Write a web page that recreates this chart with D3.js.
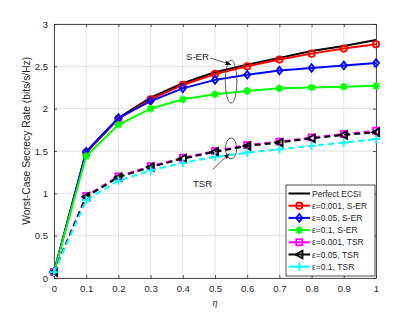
<!DOCTYPE html>
<html lang="en">
<head>
<meta charset="UTF-8">
<title>Worst-Case Secrecy Rate</title>
<script src="https://d3js.org/d3.v7.min.js"></script>
<style>
    body { margin: 0; background: #fff; font-family: Arial, "Liberation Sans", sans-serif; }
    svg text { fill: #262626; }
</style>
</head>
<body>
<svg width="415" height="312"></svg>
<script>
    // data
    const eta = [0, 0.1, 0.2, 0.3, 0.4, 0.5, 0.6, 0.7, 0.8, 0.9, 1];
    const perfect = [0.07, 1.49, 1.89, 2.13, 2.30, 2.43, 2.52, 2.60, 2.68, 2.74, 2.81];
    const serA = [0.07, 1.48, 1.88, 2.11, 2.28, 2.41, 2.50, 2.58, 2.65, 2.71, 2.76];
    const serB = [0.07, 1.49, 1.89, 2.09, 2.24, 2.34, 2.40, 2.45, 2.48, 2.51, 2.54];
    const serC = [0.07, 1.44, 1.81, 2.00, 2.11, 2.17, 2.21, 2.24, 2.25, 2.26, 2.27];
    const tsrA = [0.07, 0.97, 1.20, 1.32, 1.42, 1.50, 1.57, 1.61, 1.66, 1.70, 1.74];
    const tsrB = [0.07, 0.96, 1.19, 1.31, 1.41, 1.49, 1.56, 1.60, 1.65, 1.69, 1.72];
    const tsrC = [0.07, 0.92, 1.15, 1.27, 1.36, 1.43, 1.48, 1.52, 1.56, 1.60, 1.64];
    const xTicks = [0, 0.1, 0.2, 0.3, 0.4, 0.5, 0.6, 0.7, 0.8, 0.9, 1];
    const yTicks = [0, 0.5, 1, 1.5, 2, 2.5, 3];

    const series = [
        { name: "Perfect ECSI", values: perfect, color: "#000000", marker: "none", dash: null },
        { name: "\u03b5=0.001, S-ER", values: serA, color: "#ff0000", marker: "circle", dash: null },
        { name: "\u03b5=0.05, S-ER", values: serB, color: "#0000ff", marker: "diamond", dash: null },
        { name: "\u03b5=0.1, S-ER", values: serC, color: "#00ff00", marker: "asterisk", dash: null },
        { name: "\u03b5=0.001, TSR", values: tsrA, color: "#ff00ff", marker: "square", dash: "6,4" },
        { name: "\u03b5=0.05, TSR", values: tsrB, color: "#000000", marker: "triangle", dash: "6,4" },
        { name: "\u03b5=0.1, TSR", values: tsrC, color: "#00ffff", marker: "plus", dash: "6,4" }
    ];

    const svg = d3.select("svg"),
        margin = { top: 24, right: 39, bottom: 34, left: 54 },
        width = +svg.attr("width"),
        height = +svg.attr("height");

    const x = d3.scaleLinear().domain([0, 1]).range([margin.left, width - margin.right]);
    const y = d3.scaleLinear().domain([0, 3]).range([height - margin.bottom, margin.top]);

    // grid
    const grid = svg.append("g");
    grid.selectAll(".gx").data(xTicks).enter().append("line")
        .attr("x1", d => x(d)).attr("x2", d => x(d))
        .attr("y1", y(0)).attr("y2", y(3))
        .attr("stroke", "#e3e3e3").attr("stroke-width", 1);
    grid.selectAll(".gy").data(yTicks).enter().append("line")
        .attr("x1", x(0)).attr("x2", x(1))
        .attr("y1", d => y(d)).attr("y2", d => y(d))
        .attr("stroke", "#e3e3e3").attr("stroke-width", 1);

    // axes, MATLAB style ticks pointing inwards
    const axColor = "#262626";
    const fmt = d => d3.format("~g")(d);
    const gx = svg.append("g").attr("transform", `translate(0,${y(0)})`)
        .call(d3.axisBottom(x).tickValues(xTicks).tickFormat(fmt).tickSizeInner(-3).tickSizeOuter(0).tickPadding(7));
    const gy = svg.append("g").attr("transform", `translate(${x(0)},0)`)
        .call(d3.axisLeft(y).tickValues(yTicks).tickFormat(fmt).tickSizeInner(-3).tickSizeOuter(0).tickPadding(6));
    const gx2 = svg.append("g").attr("transform", `translate(0,${y(3)})`)
        .call(d3.axisTop(x).tickValues(xTicks).tickFormat("").tickSizeInner(-3).tickSizeOuter(0));
    const gy2 = svg.append("g").attr("transform", `translate(${x(1)},0)`)
        .call(d3.axisRight(y).tickValues(yTicks).tickFormat("").tickSizeInner(-3).tickSizeOuter(0));
    [gx, gy, gx2, gy2].forEach(g => {
        g.selectAll("path").attr("stroke", axColor).attr("stroke-width", 0.8);
        g.selectAll("line").attr("stroke", axColor).attr("stroke-width", 0.8);
        g.selectAll("text").attr("font-size", 9.5).attr("font-family", "Arial, 'Liberation Sans', sans-serif").attr("fill", axColor);
    });

    // markers
    function drawMarker(g, type, color, cx, cy) {
        const s = 3.2;
        if (type === "circle") {
            g.append("circle").attr("cx", cx).attr("cy", cy).attr("r", s)
                .attr("fill", "none").attr("stroke", color).attr("stroke-width", 1.8);
        } else if (type === "diamond") {
            g.append("path").attr("d", `M${cx},${cy - s * 1.2}L${cx + s * 0.95},${cy}L${cx},${cy + s * 1.2}L${cx - s * 0.95},${cy}Z`)
                .attr("fill", "none").attr("stroke", color).attr("stroke-width", 1.8);
        } else if (type === "square") {
            g.append("rect").attr("x", cx - s * 0.95).attr("y", cy - s * 0.95).attr("width", s * 1.9).attr("height", s * 1.9)
                .attr("fill", "none").attr("stroke", color).attr("stroke-width", 1.8);
        } else if (type === "triangle") {
            g.append("path").attr("d", `M${cx - s * 1.2},${cy}L${cx + s},${cy - s * 1.2}L${cx + s},${cy + s * 1.2}Z`)
                .attr("fill", "none").attr("stroke", color).attr("stroke-width", 1.8);
        } else if (type === "plus") {
            g.append("path").attr("d", `M${cx - s * 1.3},${cy}H${cx + s * 1.3}M${cx},${cy - s * 1.3}V${cy + s * 1.3}`)
                .attr("stroke", color).attr("stroke-width", 1.8);
        } else if (type === "asterisk") {
            const r = s * 1.2, k = r * 0.707;
            g.append("path").attr("d", `M${cx - r},${cy}H${cx + r}M${cx},${cy - r}V${cy + r}M${cx - k},${cy - k}L${cx + k},${cy + k}M${cx - k},${cy + k}L${cx + k},${cy - k}`)
                .attr("stroke", color).attr("stroke-width", 1.8);
        }
    }

    const line = d3.line().x((d, i) => x(eta[i])).y(d => y(d));
    const plot = svg.append("g");
    series.forEach(s => {
        plot.append("path").datum(s.values)
            .attr("d", line)
            .attr("fill", "none")
            .attr("stroke", s.color)
            .attr("stroke-width", 2)
            .attr("stroke-dasharray", s.dash);
        const mg = plot.append("g");
        s.values.forEach((v, i) => drawMarker(mg, s.marker, s.color, x(eta[i]), y(v)));
    });

    // annotations
    const ann = svg.append("g");
    svg.append("defs").append("marker")
        .attr("id", "arrow").attr("viewBox", "0 0 10 10").attr("refX", 10).attr("refY", 5)
        .attr("markerWidth", 7).attr("markerHeight", 7).attr("orient", "auto")
        .append("path").attr("d", "M0,1L10,5L0,9Z").attr("fill", "#000");
    ann.append("ellipse").attr("cx", x(0.55)).attr("cy", y(2.32)).attr("rx", 5.8).attr("ry", 21.5)
        .attr("fill", "none").attr("stroke", "#333").attr("stroke-width", 0.8);
    ann.append("line").attr("x1", 210).attr("y1", y(2.6)).attr("x2", x(0.55)).attr("y2", y(2.52))
        .attr("stroke", "#333").attr("stroke-width", 0.8).attr("marker-end", "url(#arrow)");
    ann.append("text").attr("x", 186).attr("y", y(2.58)).attr("font-size", 9.6).text("S-ER");
    ann.append("ellipse").attr("cx", x(0.55)).attr("cy", y(1.53)).attr("rx", 5.6).attr("ry", 10.5)
        .attr("fill", "none").attr("stroke", "#333").attr("stroke-width", 0.8);
    ann.append("line").attr("x1", 212.5).attr("y1", y(1.28)).attr("x2", x(0.545)).attr("y2", y(1.47))
        .attr("stroke", "#333").attr("stroke-width", 0.8).attr("marker-end", "url(#arrow)");
    ann.append("text").attr("x", 193).attr("y", y(1.08)).attr("font-size", 9.6).text("TSR");

    // axis labels
    svg.append("text").attr("x", x(0.5)).attr("y", 306).attr("text-anchor", "middle")
        .attr("font-size", 10).attr("font-style", "italic").attr("font-family", "'Times New Roman', 'Liberation Serif', serif").text("\u03b7");
    svg.append("text").attr("transform", `translate(30,${y(1.62)}) rotate(-90)`).attr("text-anchor", "middle")
        .attr("font-size", 10.3).text("Worst-Case Secrecy Rate (bits/s/Hz)");

    // legend
    const lg = svg.append("g");
    const lx = 286, ly = 185, lw = 89, rowH = 12.2;
    lg.append("rect").attr("x", lx).attr("y", ly).attr("width", lw).attr("height", 91)
        .attr("fill", "#fff").attr("stroke", axColor).attr("stroke-width", 0.8);
    series.forEach((s, i) => {
        const cy = ly + 8.5 + i * rowH;
        lg.append("line").attr("x1", lx + 2.5).attr("x2", lx + 24).attr("y1", cy).attr("y2", cy)
            .attr("stroke", s.color).attr("stroke-width", 2);
        drawMarker(lg, s.marker, s.color, lx + 13.3, cy);
        lg.append("text").attr("x", lx + 26).attr("y", cy + 3).attr("font-size", 8.5).text(s.name);
    });
</script>
</body>
</html>
